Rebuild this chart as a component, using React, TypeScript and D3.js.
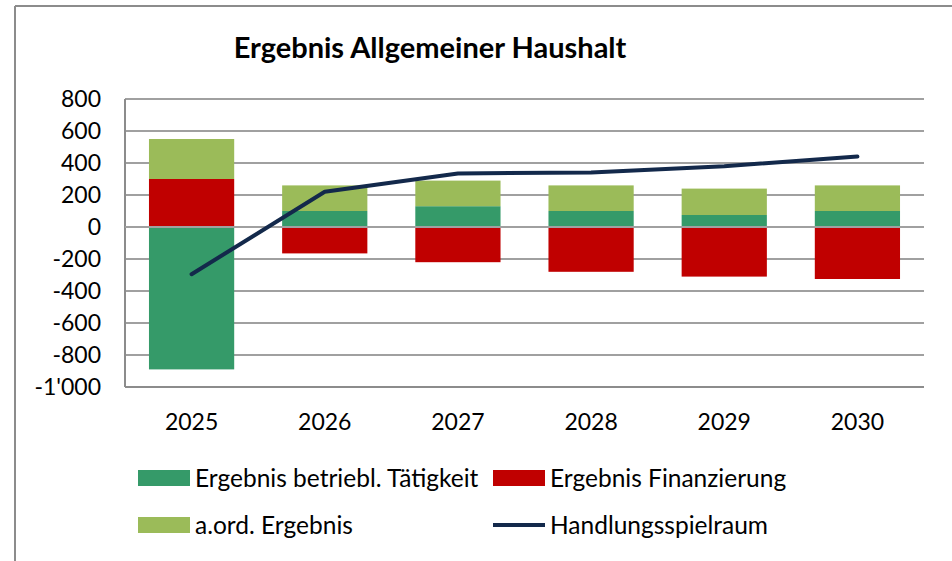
import React from "react";
import * as d3 from "d3";

const categories = ["2025", "2026", "2027", "2028", "2029", "2030"];
const betrieblich = [-890, 100, 130, 100, 75, 100];
const finanzierung = [300, -165, -220, -280, -310, -325];
const ausserord = [250, 160, 160, 160, 165, 160];
const spielraum = [-295, 220, 335, 340, 380, 440];
const yTicks = [-1000, -800, -600, -400, -200, 0, 200, 400, 600, 800];

const seriesKeys = ["betrieblich", "finanzierung", "ausserord"];
const seriesNames = ["Ergebnis betriebl. Tätigkeit", "Ergebnis Finanzierung", "a.ord. Ergebnis"];
const colors = ["#359A69", "#C00000", "#9BBB59"];
const lineColor = "#13294B";
const FONT = "Lato, 'Open Sans', sans-serif";

const W = 952, H = 561;
const plot = { left: 125, right: 924, top: 99, bottom: 387 };

export default function App() {
  const x = d3.scaleBand<string>().domain(categories).range([plot.left, plot.right]).paddingInner(0.36).paddingOuter(0.18);
  const y = d3.scaleLinear().domain([-1000, 800]).range([plot.bottom, plot.top]);
  const rows = categories.map((c, i) => ({ cat: c, betrieblich: betrieblich[i], finanzierung: finanzierung[i], ausserord: ausserord[i] }));
  const stacked = d3.stack<any>().keys(seriesKeys).offset(d3.stackOffsetDiverging)(rows);
  const line = d3.line<number>().x((_, i) => (x(categories[i]) as number) + x.bandwidth() / 2).y((d) => y(d));
  const fmt = (v: number) => (v < -999 ? "-1'000" : String(v));

  return (
    <svg width={W} height={H} style={{ position: "absolute", left: 0, top: 0, fontFamily: FONT }}>
      <rect x={0} y={0} width={W} height={H} fill="#fff" />
      <line x1={15} x2={W} y1={6} y2={6} stroke="#8c8c8c" strokeWidth={2} />
      <line x1={15} x2={15} y1={6} y2={H} stroke="#8c8c8c" strokeWidth={2} />
      <text x={430} y={58} textAnchor="middle" fontSize={29} fontWeight="bold" fill="#000">Ergebnis Allgemeiner Haushalt</text>
      {yTicks.map((t) => (
        <g key={t}>
          {t > -1000 && <line x1={plot.left} x2={plot.right} y1={y(t)} y2={y(t)} stroke="#a0a0a0" strokeWidth={2} />}
          <text x={101} y={y(t)} dy="0.35em" textAnchor="end" fontSize={23} fill="#000">{fmt(t)}</text>
        </g>
      ))}
      {stacked.map((s, si) => (
        <g key={s.key} fill={colors[si]}>
          {s.map((d, i) => (
            <rect key={i} x={x(categories[i])} width={x.bandwidth()} y={y(Math.max(d[0], d[1]))} height={Math.abs(y(d[0]) - y(d[1]))} />
          ))}
        </g>
      ))}
      <line x1={plot.left} x2={plot.left} y1={plot.top} y2={plot.bottom} stroke="#8c8c8c" strokeWidth={2} />
      <line x1={plot.left} x2={plot.right} y1={plot.bottom} y2={plot.bottom} stroke="#8c8c8c" strokeWidth={2} />
      <line x1={plot.left} x2={plot.right} y1={y(0)} y2={y(0)} stroke="#a0a0a0" strokeWidth={2} />
      <path d={line(spielraum) || ""} fill="none" stroke={lineColor} strokeWidth={4} strokeLinejoin="round" strokeLinecap="round" />
      {categories.map((c) => (
        <text key={c} x={(x(c) as number) + x.bandwidth() / 2} y={422} dy="0.35em" textAnchor="middle" fontSize={23} fill="#000">{c}</text>
      ))}
      {[
        { x: 138, y: 478, i: 0 },
        { x: 493, y: 478, i: 1 },
        { x: 138, y: 525, i: 2 },
      ].map((l) => (
        <g key={l.i}>
          <rect x={l.x} y={l.y - 8} width={52} height={16} fill={colors[l.i]} />
          <text x={l.x + 57} y={l.y} dy="0.35em" fontSize={24.5} fill="#000">{seriesNames[l.i]}</text>
        </g>
      ))}
      <line x1={493} x2={545} y1={525} y2={525} stroke={lineColor} strokeWidth={4} />
      <text x={550} y={525} dy="0.35em" fontSize={24.5} fill="#000">Handlungsspielraum</text>
    </svg>
  );
}
